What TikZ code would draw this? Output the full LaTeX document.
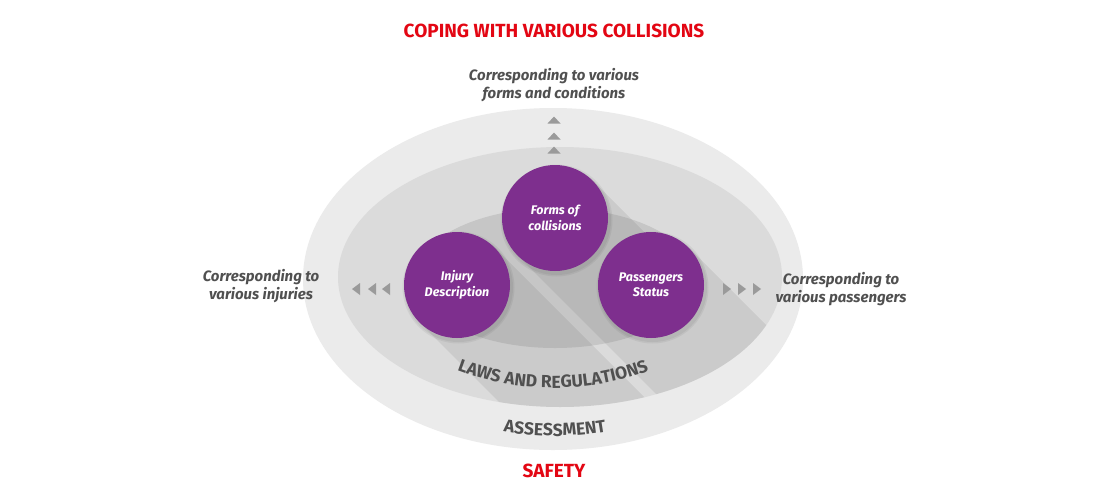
\documentclass[tikz,border=0pt]{standalone}
\usepackage{fontspec}
\setmainfont{Fira Sans}
\usetikzlibrary{decorations.text,calc}
\definecolor{purp}{HTML}{7E2F8E}
\definecolor{ringA}{HTML}{EBEBEB}
\definecolor{ringB}{HTML}{DBDBDB}
\definecolor{ringC}{HTML}{C6C6C6}
\definecolor{txtgray}{HTML}{505050}
\definecolor{trigray}{HTML}{9A9A9A}
\definecolor{safred}{HTML}{E30613}
\begin{document}
\begin{tikzpicture}[x=1pt,y=-1pt,
  topic/.style={circle, fill=purp, minimum size=106pt, inner sep=0pt, text=white,
    font=\fontsize{12.5}{15.5}\selectfont\bfseries\itshape, align=center},
  sidelabel/.style={text=txtgray, font=\fontsize{15}{18}\selectfont\bfseries\itshape, align=center},
  heading/.style={text=safred, font=\fontsize{19}{22}\selectfont\bfseries},
  tri/.style={fill=trigray},
  softshadow/.style={fill=black, opacity=0.05},
  arctext/.style={decorate, decoration={text along path, text align=center,
    text={|\fontsize{17.5}{17.5}\selectfont\bfseries\color{txtgray}|#1}}}
]
\useasboundingbox (0,0) rectangle (1110,498);
\fill[white] (0,0) rectangle (1110,498);
% rings
\fill[ringA] (553,279) ellipse [x radius=250, y radius=171];
\fill[ringB] (560,277) ellipse [x radius=222, y radius=130];
\fill[ringC] (555,278) ellipse [x radius=140, y radius=70];
% centres of the topic circles
\coordinate (cf) at (555,218);
\coordinate (ci) at (457,285);
\coordinate (cp) at (651,285);
% long shadows
\begin{scope}
  \clip (560,277) ellipse [x radius=222, y radius=130];
  \fill[black, opacity=0.07]
    ($(cf)+(37.5,-37.5)$) -- ++(320,320) -- ($(cf)+(-37.5,37.5)+(320,320)$) -- ($(cf)+(-37.5,37.5)$) -- cycle
    ($(ci)+(37.5,-37.5)$) -- ++(320,320) -- ($(ci)+(-37.5,37.5)+(320,320)$) -- ($(ci)+(-37.5,37.5)$) -- cycle
    ($(cp)+(37.5,-37.5)$) -- ++(320,320) -- ($(cp)+(-37.5,37.5)+(320,320)$) -- ($(cp)+(-37.5,37.5)$) -- cycle;
\end{scope}
% soft drop shadows of the circles
\foreach \c in {cf,ci,cp} {
  \fill[softshadow] ($(\c)+(1.5,2.5)$) circle (56);
  \fill[softshadow] ($(\c)+(1.5,2.5)$) circle (54.5);
}
% topic circles
\node[topic] (forms) at (cf) {Forms of\\collisions};
\node[topic] (injury) at (ci) {Injury\\Description};
\node[topic] (pass) at (cp) {Passengers\\Status};
% triangles up
\foreach \y in {120,136,150} \fill[tri] (547.5,\y+3.5) -- (560.5,\y+3.5) -- (554,\y-3.5) -- cycle;
% triangles left
\foreach \x in {352,368,382} \fill[tri] (\x,289) -- (\x+8,283) -- (\x+8,295) -- cycle;
% triangles right
\foreach \x in {731,746,761} \fill[tri] (\x,289) -- (\x-8,283) -- (\x-8,295) -- cycle;
% texts
\node[heading] (title) at (554,31) {COPING WITH VARIOUS COLLISIONS};
\node[heading] (safety) at (554,471) {SAFETY};
\node[sidelabel] (toplab) at (554,85) {Corresponding to various\\forms and conditions};
\node[sidelabel] (leftlab) at (261,286) {Corresponding to\\various injuries};
\node[sidelabel] (rightlab) at (841,289) {Corresponding to\\various passengers};
% curved texts
\path[arctext={LAWS AND REGULATIONS}] (553,114) ++(116:274) arc[start angle=116, end angle=64, radius=274];
\path[arctext={ASSESSMENT}] (555,136) ++(105:300) arc[start angle=105, end angle=75, radius=300];
\end{tikzpicture}
\end{document}
